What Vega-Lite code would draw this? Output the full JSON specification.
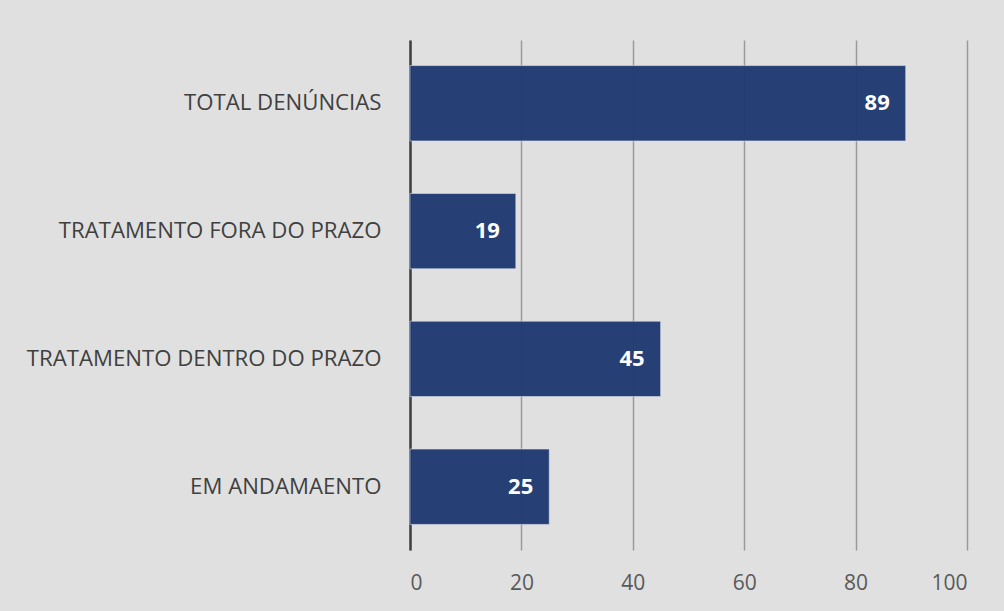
{
  "$schema": "https://vega.github.io/schema/vega-lite/v6.json",
  "autosize": "none",
  "width": 557,
  "height": 510,
  "padding": {"left": 410, "top": 40, "right": 37, "bottom": 61},
  "background": "#e0e0e0",
  "config": {
    "view": {"stroke": null},
    "font": "Open Sans"
  },
  "data": {
    "values": [
      {"categoria": "TOTAL DENÚNCIAS", "valor": 89},
      {"categoria": "TRATAMENTO FORA DO PRAZO", "valor": 19},
      {"categoria": "TRATAMENTO DENTRO DO PRAZO", "valor": 45},
      {"categoria": "EM ANDAMAENTO", "valor": 25}
    ]
  },
  "encoding": {
    "y": {
      "field": "categoria",
      "type": "nominal",
      "sort": null,
      "scale": {"paddingInner": 0.41, "paddingOuter": 0.2},
      "axis": {
        "title": null,
        "ticks": false,
        "grid": false,
        "domain": true,
        "domainColor": "#404040",
        "domainWidth": 2.5,
        "labelFont": "Open Sans",
        "labelFontSize": 22.2,
        "labelColor": "#404040",
        "labelPadding": 29,
        "labelLimit": 420
      }
    }
  },
  "layer": [
    {
      "mark": {"type": "bar", "color": "#1d3870", "opacity": 0.95, "stroke": "#dfe6f0", "strokeWidth": 0.6},
      "encoding": {
        "x": {
          "field": "valor",
          "type": "quantitative",
          "scale": {"domain": [0, 100]},
          "axis": {
            "title": null,
            "values": [0, 20, 40, 60, 80, 100],
            "grid": true,
            "gridColor": "#9a9a9a",
            "gridWidth": 1.5,
            "domain": false,
            "ticks": false,
            "labelFont": "Open Sans",
            "labelFontSize": 21,
            "labelColor": "#595959",
            "labelPadding": 22
          }
        }
      }
    },
    {
      "mark": {"type": "text", "align": "right", "dx": -16, "color": "white", "fontWeight": "bold", "fontSize": 22, "font": "Open Sans"},
      "encoding": {
        "x": {"field": "valor", "type": "quantitative"},
        "text": {"field": "valor", "type": "quantitative"}
      }
    }
  ]
}
